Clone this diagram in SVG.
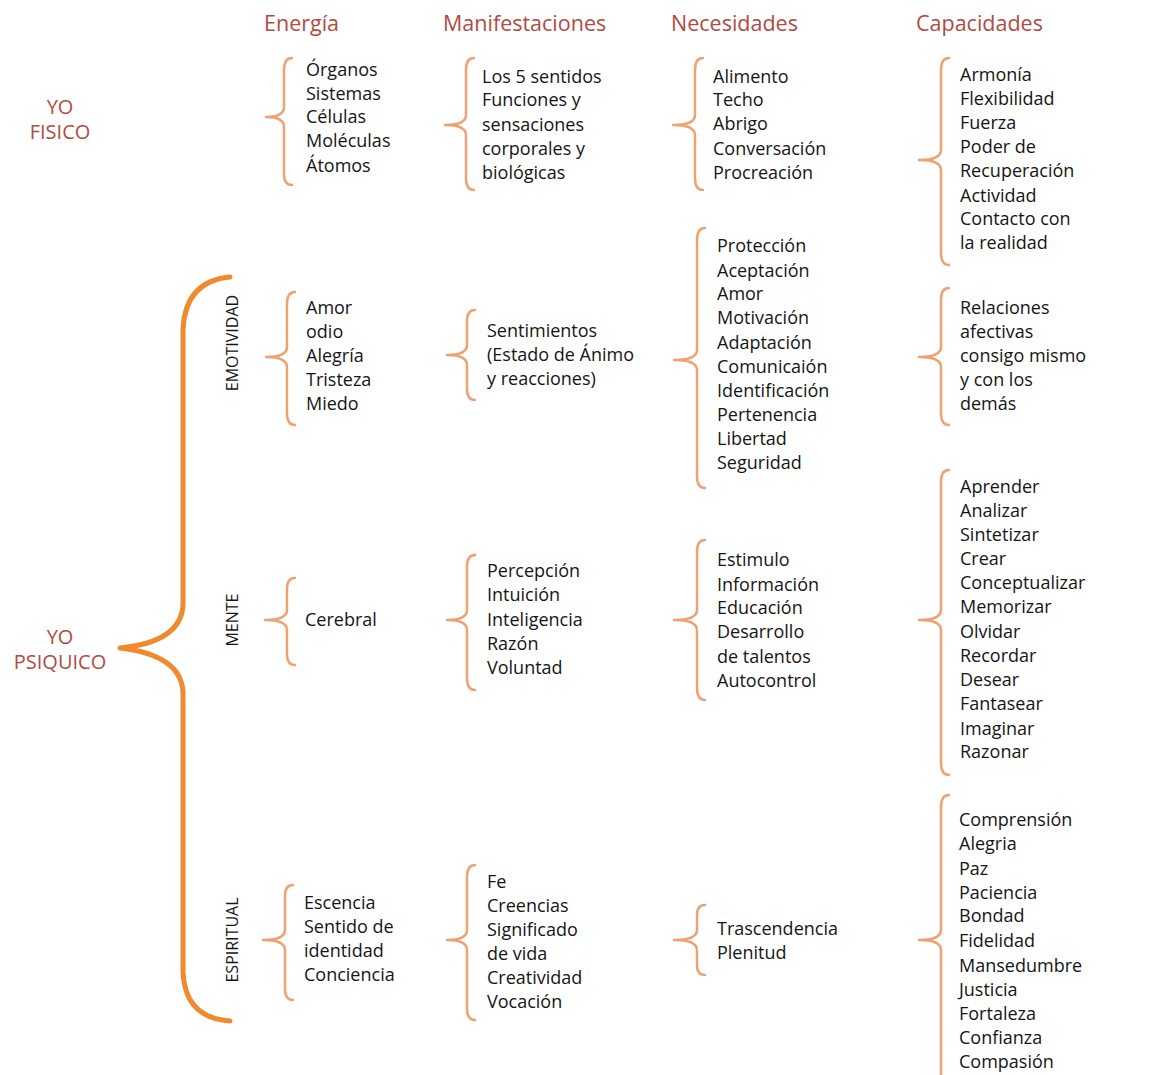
<svg xmlns="http://www.w3.org/2000/svg" width="1153" height="1075" viewBox="0 0 1153 1075">
<style>
.h{font-family:"Open Sans","Noto Sans",sans-serif;font-size:21.5px;fill:#b24a42}
.yo{font-family:"Open Sans","Noto Sans",sans-serif;font-size:20px;fill:#b24a42;text-anchor:middle}
.t{font-family:"Open Sans","Noto Sans",sans-serif;font-size:18px;fill:#151515}
.v{font-family:"Open Sans","Noto Sans",sans-serif;font-size:16px;fill:#151515;text-anchor:middle}
.b{fill:none;stroke:#eca273;stroke-width:2.5;stroke-linecap:round;stroke-linejoin:round}
.big{fill:none;stroke:#ef8a2e;stroke-width:5;stroke-linecap:round;stroke-linejoin:round}
</style>
<rect width="1153" height="1075" fill="#ffffff"/>
<g id="headers">
<text class="h" x="264" y="31">Energía</text>
<text class="h" x="443" y="31">Manifestaciones</text>
<text class="h" x="671" y="31">Necesidades</text>
<text class="h" x="916" y="31">Capacidades</text>
</g>
<g id="yo-fisico">
<text class="yo" x="60" y="114">YO</text>
<text class="yo" x="60" y="139">FISICO</text>
</g>
<g id="yo-psiquico">
<text class="yo" x="60" y="644">YO</text>
<text class="yo" x="60" y="669">PSIQUICO</text>
</g>
<g id="connectors">
<path class="big" d="M230,277 Q185,281 183,330 L183,605 Q181,642 120,648 Q181,655 183,692 L183,972 Q185,1018 230,1021"/>
<path class="b" d="M292,58 Q284,58 284,70 L284,107 Q284,117 266,117 Q284,117 284,127 L284,174 Q284,185 292,185"/>
<path class="b" d="M474,58 Q466,58 466,70 L466,115 Q466,125 445,125 Q466,125 466,135 L466,178 Q466,190 474,190"/>
<path class="b" d="M703,58 Q695,58 695,70 L695,115 Q695,125 673,125 Q695,125 695,135 L695,178 Q695,190 703,190"/>
<path class="b" d="M949,58 Q941,58 941,70 L941,150 Q941,160 919,160 Q941,160 941,170 L941,253 Q941,265 949,265"/>
<path class="b" d="M295,292 Q287,292 287,304 L287,347 Q287,357 266,357 Q287,357 287,367 L287,413 Q287,425 295,425"/>
<path class="b" d="M475,310 Q467,310 467,321 L467,345 Q467,355 447,355 Q467,355 467,365 L467,389 Q467,400 475,400"/>
<path class="b" d="M705,228 Q697,228 697,240 L697,350 Q697,360 674,360 Q697,360 697,370 L697,476 Q697,488 705,488"/>
<path class="b" d="M949,288 Q941,288 941,300 L941,347 Q941,357 919,357 Q941,357 941,367 L941,413 Q941,425 949,425"/>
<path class="b" d="M295,578 Q287,578 287,589 L287,610 Q287,620 265,620 Q287,620 287,630 L287,654 Q287,665 295,665"/>
<path class="b" d="M475,555 Q467,555 467,567 L467,610 Q467,620 447,620 Q467,620 467,630 L467,678 Q467,690 475,690"/>
<path class="b" d="M705,540 Q697,540 697,552 L697,610 Q697,620 674,620 Q697,620 697,630 L697,688 Q697,700 705,700"/>
<path class="b" d="M949,470 Q941,470 941,482 L941,610 Q941,620 919,620 Q941,620 941,630 L941,763 Q941,775 949,775"/>
<path class="b" d="M293,885 Q285,885 285,896 L285,930 Q285,940 263,940 Q285,940 285,950 L285,989 Q285,1000 293,1000"/>
<path class="b" d="M475,865 Q467,865 467,877 L467,930 Q467,940 447,940 Q467,940 467,950 L467,1008 Q467,1020 475,1020"/>
<path class="b" d="M705,905 Q697,905 697,915 L697,930 Q697,940 674,940 Q697,940 697,950 L697,965 Q697,975 705,975"/>
<path class="b" d="M949,795 Q941,795 941,807 L941,930 Q941,940 919,940 Q941,940 941,950 L941,1080"/>
</g>
<g id="emotividad-label"><text class="v" transform="translate(238,343) rotate(-90)">EMOTIVIDAD</text></g>
<g id="mente-label"><text class="v" transform="translate(238,620) rotate(-90)">MENTE</text></g>
<g id="espiritual-label"><text class="v" transform="translate(238,940) rotate(-90)">ESPIRITUAL</text></g>
<g id="fisico-energia">
<text class="t" x="306" y="76">Órganos</text>
<text class="t" x="306" y="100">Sistemas</text>
<text class="t" x="306" y="123">Células</text>
<text class="t" x="306" y="147">Moléculas</text>
<text class="t" x="306" y="172">Átomos</text>
</g>
<g id="fisico-manifestaciones">
<text class="t" x="482" y="83">Los 5 sentidos</text>
<text class="t" x="482" y="106">Funciones y</text>
<text class="t" x="482" y="131">sensaciones</text>
<text class="t" x="482" y="155">corporales y</text>
<text class="t" x="482" y="179">biológicas</text>
</g>
<g id="fisico-necesidades">
<text class="t" x="713" y="83">Alimento</text>
<text class="t" x="713" y="106">Techo</text>
<text class="t" x="713" y="130">Abrigo</text>
<text class="t" x="713" y="155">Conversación</text>
<text class="t" x="713" y="179">Procreación</text>
</g>
<g id="fisico-capacidades">
<text class="t" x="960" y="81">Armonía</text>
<text class="t" x="960" y="105">Flexibilidad</text>
<text class="t" x="960" y="129">Fuerza</text>
<text class="t" x="960" y="153">Poder de</text>
<text class="t" x="960" y="177">Recuperación</text>
<text class="t" x="960" y="202">Actividad</text>
<text class="t" x="960" y="225">Contacto con</text>
<text class="t" x="960" y="249">la realidad</text>
</g>
<g id="emotividad-energia">
<text class="t" x="306" y="314">Amor</text>
<text class="t" x="306" y="338">odio</text>
<text class="t" x="306" y="362">Alegría</text>
<text class="t" x="306" y="386">Tristeza</text>
<text class="t" x="306" y="410">Miedo</text>
</g>
<g id="emotividad-manifestaciones">
<text class="t" x="487" y="337">Sentimientos</text>
<text class="t" x="487" y="361">(Estado de Ánimo</text>
<text class="t" x="487" y="385">y reacciones)</text>
</g>
<g id="emotividad-necesidades">
<text class="t" x="717" y="252">Protección</text>
<text class="t" x="717" y="277">Aceptación</text>
<text class="t" x="717" y="300">Amor</text>
<text class="t" x="717" y="324">Motivación</text>
<text class="t" x="717" y="349">Adaptación</text>
<text class="t" x="717" y="373">Comunicaión</text>
<text class="t" x="717" y="397">Identificación</text>
<text class="t" x="717" y="421">Pertenencia</text>
<text class="t" x="717" y="445">Libertad</text>
<text class="t" x="717" y="469">Seguridad</text>
</g>
<g id="emotividad-capacidades">
<text class="t" x="960" y="314">Relaciones</text>
<text class="t" x="960" y="338">afectivas</text>
<text class="t" x="960" y="362">consigo mismo</text>
<text class="t" x="960" y="386">y con los</text>
<text class="t" x="960" y="410">demás</text>
</g>
<g id="mente-energia">
<text class="t" x="305" y="626">Cerebral</text>
</g>
<g id="mente-manifestaciones">
<text class="t" x="487" y="577">Percepción</text>
<text class="t" x="487" y="601">Intuición</text>
<text class="t" x="487" y="626">Inteligencia</text>
<text class="t" x="487" y="650">Razón</text>
<text class="t" x="487" y="674">Voluntad</text>
</g>
<g id="mente-necesidades">
<text class="t" x="717" y="566">Estimulo</text>
<text class="t" x="717" y="591">Información</text>
<text class="t" x="717" y="614">Educación</text>
<text class="t" x="717" y="638">Desarrollo</text>
<text class="t" x="717" y="663">de talentos</text>
<text class="t" x="717" y="687">Autocontrol</text>
</g>
<g id="mente-capacidades">
<text class="t" x="960" y="493">Aprender</text>
<text class="t" x="960" y="517">Analizar</text>
<text class="t" x="960" y="541">Sintetizar</text>
<text class="t" x="960" y="565">Crear</text>
<text class="t" x="960" y="589">Conceptualizar</text>
<text class="t" x="960" y="613">Memorizar</text>
<text class="t" x="960" y="638">Olvidar</text>
<text class="t" x="960" y="662">Recordar</text>
<text class="t" x="960" y="686">Desear</text>
<text class="t" x="960" y="710">Fantasear</text>
<text class="t" x="960" y="735">Imaginar</text>
<text class="t" x="960" y="758">Razonar</text>
</g>
<g id="espiritual-energia">
<text class="t" x="304" y="909">Escencia</text>
<text class="t" x="304" y="933">Sentido de</text>
<text class="t" x="304" y="957">identidad</text>
<text class="t" x="304" y="981">Conciencia</text>
</g>
<g id="espiritual-manifestaciones">
<text class="t" x="487" y="888">Fe</text>
<text class="t" x="487" y="912">Creencias</text>
<text class="t" x="487" y="936">Significado</text>
<text class="t" x="487" y="960">de vida</text>
<text class="t" x="487" y="984">Creatividad</text>
<text class="t" x="487" y="1008">Vocación</text>
</g>
<g id="espiritual-necesidades">
<text class="t" x="717" y="935">Trascendencia</text>
<text class="t" x="717" y="959">Plenitud</text>
</g>
<g id="espiritual-capacidades">
<text class="t" x="959" y="826">Comprensión</text>
<text class="t" x="959" y="850">Alegria</text>
<text class="t" x="959" y="875">Paz</text>
<text class="t" x="959" y="899">Paciencia</text>
<text class="t" x="959" y="922">Bondad</text>
<text class="t" x="959" y="947">Fidelidad</text>
<text class="t" x="959" y="972">Mansedumbre</text>
<text class="t" x="959" y="996">Justicia</text>
<text class="t" x="959" y="1020">Fortaleza</text>
<text class="t" x="959" y="1044">Confianza</text>
<text class="t" x="959" y="1068">Compasión</text>
</g>
</svg>
